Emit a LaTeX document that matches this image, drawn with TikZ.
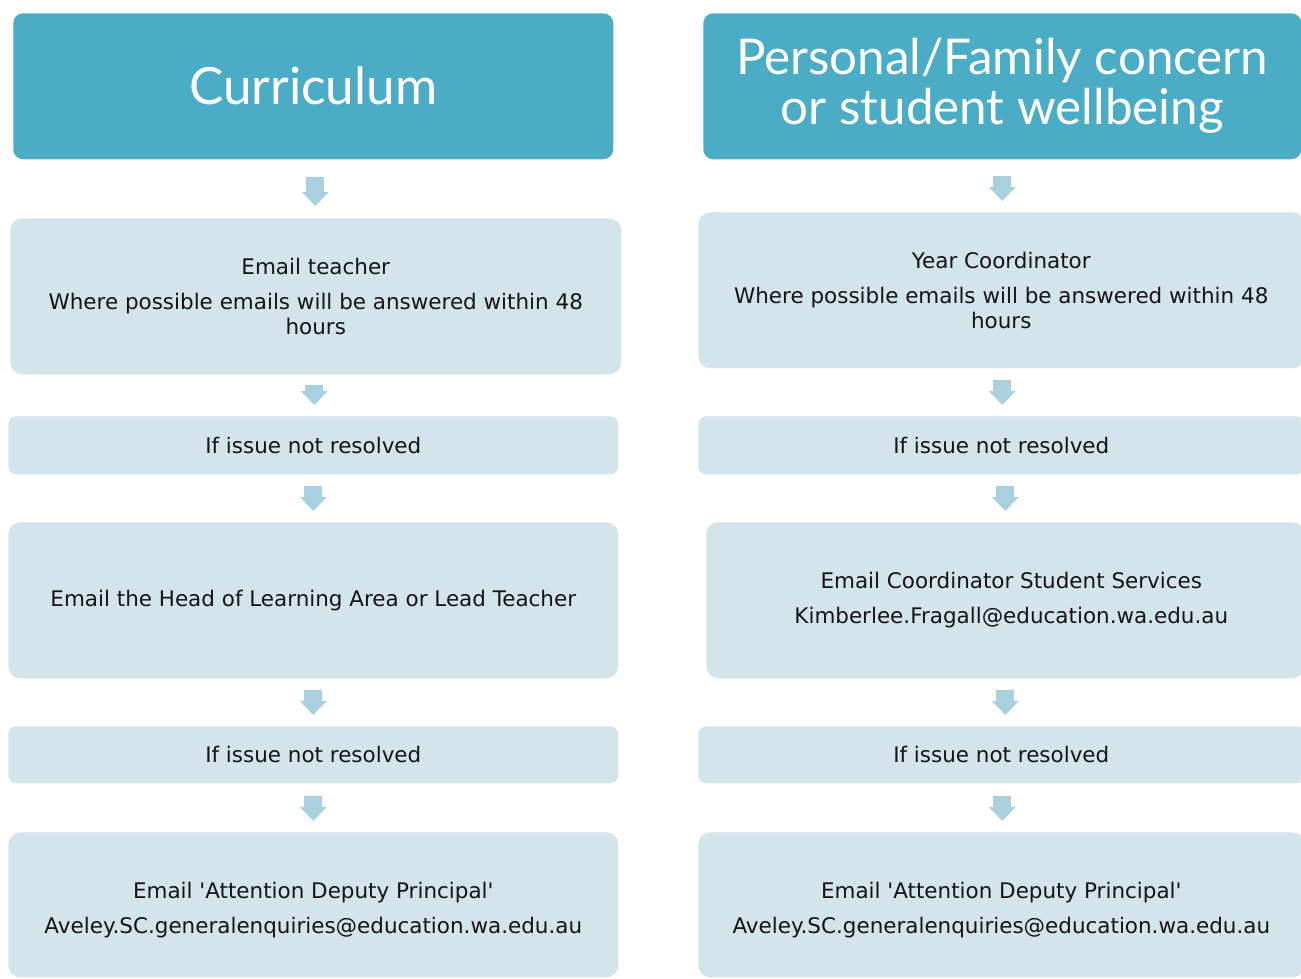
\documentclass[tikz,border=0pt]{standalone}
\usepackage{fontspec}
\setmainfont{DejaVu Sans}
\newfontfamily\titlefont{Lato}
\usetikzlibrary{arrows.meta}
\definecolor{hdr}{HTML}{4BACC6}
\definecolor{lbox}{HTML}{D3E4EB}
\definecolor{arr}{HTML}{A9D0DE}
\definecolor{txt}{HTML}{141414}
\def\u{0.75pt}
\tikzset{
  header/.style={fill=hdr, rounded corners=10*\u, anchor=north west, inner sep=0pt,
     text=white, align=center, font=\titlefont\fontsize{37pt}{37.5pt}\selectfont},
  bodytext/.style={text=txt, align=center, font=\fontsize{16.1pt}{18.75pt}\selectfont},
  lightbox/.style={fill=lbox, rounded corners=12*\u, anchor=north west, inner sep=0pt, bodytext},
  flowarrow/.style={draw=arr, line width=18*\u, -{Triangle[length=14*\u, width=26*\u]}},
}
\begin{document}
\begin{tikzpicture}[x=0.75pt, y=-0.75pt]
\useasboundingbox (0,0) rectangle (1301,978);
% Left column
\node[header, minimum width=600*\u, minimum height=146*\u, font=\titlefont\fontsize{38.5pt}{37.5pt}\selectfont] (lh) at (13,13) {Curriculum};
\node[lightbox, minimum width=611*\u, minimum height=156*\u] (l1) at (10,218)
  {Email teacher\\[10*\u]Where possible emails will be answered within 48\\hours};
\node[lightbox, minimum width=610*\u, minimum height=58*\u, rounded corners=8*\u] (l2) at (8,416) {If issue not resolved};
\node[lightbox, minimum width=610*\u, minimum height=156*\u] (l3) at (8,522) {Email the Head of Learning Area or Lead Teacher};
\node[lightbox, minimum width=610*\u, minimum height=57*\u, rounded corners=8*\u] (l4) at (8,726) {If issue not resolved};
\node[lightbox, minimum width=610*\u, minimum height=145*\u,
  label={[bodytext, yshift=-5.5*\u]center:{Email \textquotesingle Attention Deputy Principal\textquotesingle\\[10*\u]Aveley.SC.generalenquiries@education.wa.edu.au}}] (l5) at (8,832) {};
% Right column
\node[header, minimum width=598*\u, minimum height=146*\u] (rh) at (703,13) {Personal/Family concern\\or student wellbeing};
\node[lightbox, minimum width=606*\u, minimum height=156*\u] (r1) at (698,212)
  {Year Coordinator\\[10*\u]Where possible emails will be answered within 48\\hours};
\node[lightbox, minimum width=606*\u, minimum height=58*\u, rounded corners=8*\u] (r2) at (698,416) {If issue not resolved};
\node[lightbox, minimum width=598*\u, minimum height=156*\u,
  label={[bodytext, xshift=6*\u]center:{Email Coordinator Student Services\\[10*\u]Kimberlee.Fragall@education.wa.edu.au}}] (r3) at (706,522) {};
\node[lightbox, minimum width=606*\u, minimum height=57*\u, rounded corners=8*\u] (r4) at (698,726) {If issue not resolved};
\node[lightbox, minimum width=606*\u, minimum height=145*\u,
  label={[bodytext, yshift=-5.5*\u]center:{Email \textquotesingle Attention Deputy Principal\textquotesingle\\[10*\u]Aveley.SC.generalenquiries@education.wa.edu.au}}] (r5) at (698,832) {};
% Arrow start points
\coordinate (a1) at ([xshift=2*\u, yshift=-17*\u]lh.south);
\coordinate (a2) at ([xshift=-1.5*\u, yshift=-10*\u]l1.south);
\coordinate (a3) at ([yshift=-11*\u]l2.south);
\coordinate (a4) at ([yshift=-11*\u]l3.south);
\coordinate (a5) at ([yshift=-12*\u]l4.south);
\coordinate (b1) at ([yshift=-16*\u]rh.south);
\coordinate (b2) at ([xshift=1*\u, yshift=-11*\u]r1.south);
\coordinate (b3) at ([xshift=4*\u, yshift=-11*\u]r2.south);
\coordinate (b4) at ([xshift=0*\u, yshift=-11*\u]r3.south);
\coordinate (b5) at ([xshift=1*\u, yshift=-12*\u]r4.south);
% Arrows left
\draw[flowarrow] (a1) -- ([yshift=12*\u]a1 |- l1.north);
\draw[flowarrow] (a2) -- ([yshift=11*\u]a2 |- l2.north);
\draw[flowarrow] (a3) -- ([yshift=11*\u]a3 |- l3.north);
\draw[flowarrow] (a4) -- ([yshift=11*\u]a4 |- l4.north);
\draw[flowarrow] (a5) -- ([yshift=11*\u]a5 |- l5.north);
% Arrows right
\draw[flowarrow] (b1) -- ([yshift=11*\u]b1 |- r1.north);
\draw[flowarrow] (b2) -- ([yshift=11*\u]b2 |- r2.north);
\draw[flowarrow] (b3) -- ([yshift=11*\u]b3 |- r3.north);
\draw[flowarrow] (b4) -- ([yshift=11*\u]b4 |- r4.north);
\draw[flowarrow] (b5) -- ([yshift=11*\u]b5 |- r5.north);
\end{tikzpicture}
\end{document}
